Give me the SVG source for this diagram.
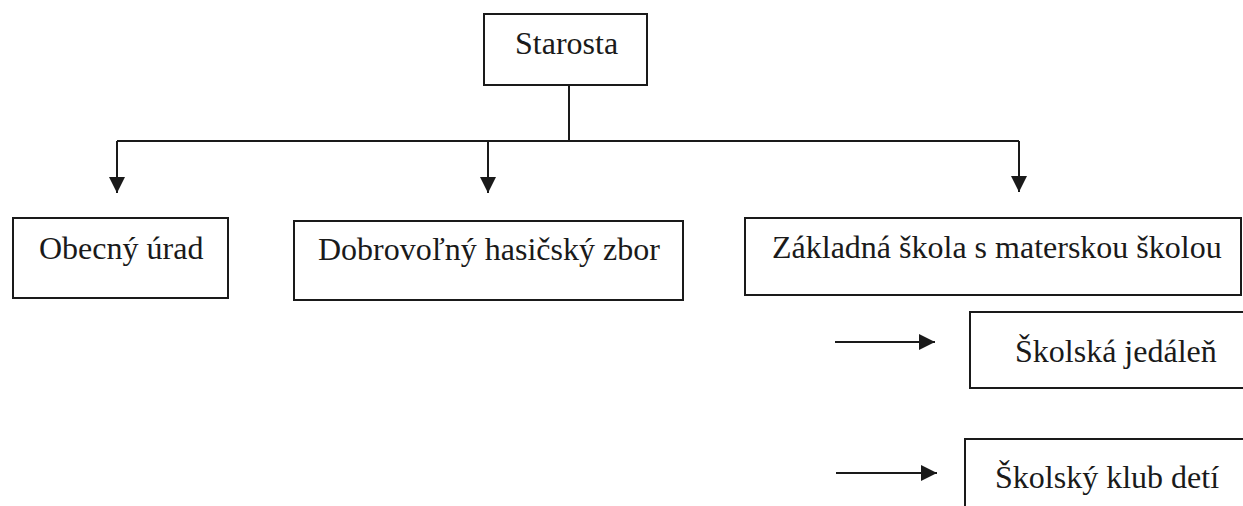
<svg xmlns="http://www.w3.org/2000/svg" width="1243" height="506" viewBox="0 0 1243 506">
<style>
.box{fill:#fff;stroke:#1a1a1a;stroke-width:2}
.lbl{font-family:'Liberation Serif','Tinos','Times New Roman','DejaVu Serif',serif;font-size:32px;fill:#1a1a1a}
.ln{fill:none;stroke:#1a1a1a;stroke-width:2}
</style>
<defs>
<marker id="ah" markerUnits="userSpaceOnUse" markerWidth="18" markerHeight="18" viewBox="0 0 18 18" refX="16" refY="9" orient="auto">
<path d="M0,1 L16,9 L0,17 Z" fill="#1a1a1a"/>
</marker>
</defs>
<rect width="1243" height="506" fill="#fff"/>
<g id="connectors">
<path class="ln" d="M569,85 V141"/>
<path class="ln" d="M117,141 H1019"/>
<path class="ln" d="M117,141 V193" marker-end="url(#ah)"/>
<path class="ln" d="M488,141 V193" marker-end="url(#ah)"/>
<path class="ln" d="M1019,141 V192" marker-end="url(#ah)"/>
<path class="ln" d="M835,342 H935" marker-end="url(#ah)"/>
<path class="ln" d="M836,473 H937" marker-end="url(#ah)"/>
</g>
<g id="starosta">
<rect class="box" x="484" y="14" width="163" height="71"/>
<text class="lbl" x="515" y="54">Starosta</text>
</g>
<g id="obecny-urad">
<rect class="box" x="13" y="218" width="215" height="80"/>
<text class="lbl" x="39" y="259">Obecný úrad</text>
</g>
<g id="dhz">
<rect class="box" x="294" y="221" width="389" height="79"/>
<text class="lbl" x="318" y="260">Dobrovoľný hasičský zbor</text>
</g>
<g id="zs">
<rect class="box" x="745" y="218" width="496" height="77"/>
<text class="lbl" x="772" y="258">Základná škola s materskou školou</text>
</g>
<g id="jedalen">
<rect class="box" x="970" y="312" width="280" height="76"/>
<text class="lbl" x="1015" y="362">Školská jedáleň</text>
</g>
<g id="klub">
<rect class="box" x="965" y="439" width="285" height="80"/>
<text class="lbl" x="995" y="488">Školský klub detí</text>
</g>
</svg>
